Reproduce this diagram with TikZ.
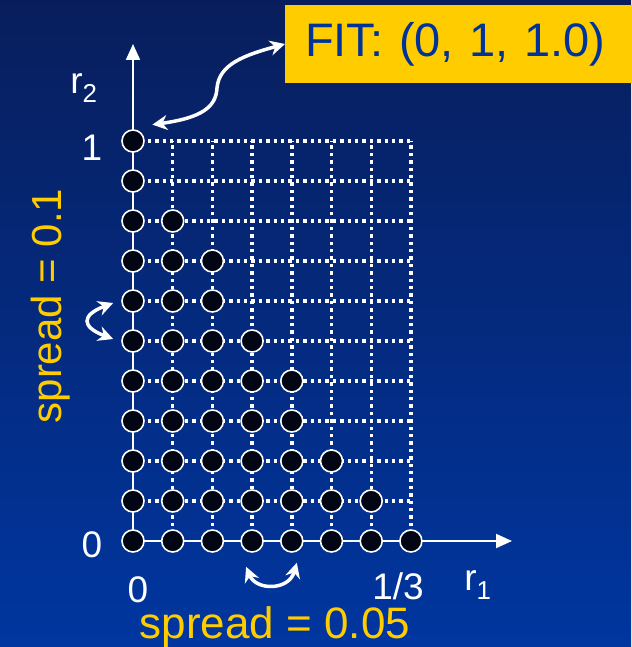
\documentclass[tikz,border=0pt]{standalone}
\usepackage{fontspec}
\setmainfont{Liberation Sans}
\usepackage{xcolor}
\usetikzlibrary{arrows.meta}
\definecolor{bgtop}{RGB}{8,30,92}
\definecolor{bgbot}{RGB}{0,54,160}
\definecolor{fityellow}{RGB}{255,204,0}
\definecolor{fitblue}{RGB}{0,51,153}
\definecolor{dotblack}{RGB}{2,6,20}

\begin{document}
\begin{tikzpicture}[
    x=1pt, y=-1pt,
    dot/.style={circle, draw=white, fill=dotblack, line width=1.6pt, minimum size=22pt, inner sep=0pt},
    gridline/.style={white, line width=3.4pt, dash pattern=on 3.4pt off 4pt},
    axis/.style={white, line width=2pt, -{Triangle[length=16pt,width=14pt]}},
    swap/.style={white, line width=3.5pt, {Stealth[length=15pt,width=15pt]}-{Stealth[length=15pt,width=15pt]}},
    lbl/.style={text=white, inner sep=0pt, font=\fontsize{37}{40}\selectfont},
    spread/.style={text=fityellow, inner sep=0pt, font=\fontsize{44}{48}\selectfont},
    fitbox/.style={fill=fityellow, text=fitblue, font=\fontsize{47}{50}\selectfont, minimum height=78pt, text width=330pt, inner xsep=20pt}
]
\useasboundingbox (0,0) rectangle (631,647);
\shade[top color=bgtop, bottom color=bgbot] (0,0) rectangle (631,647);

% grid points
\foreach \i in {0,...,7}
  \foreach \j in {0,...,10}
    \coordinate (g-\i-\j) at ({133+39.7*\i},{541-40*\j});
\coordinate (xend) at (512,541);
\coordinate (yend) at (133,44);

% dotted grid
\foreach \j in {1,...,10}
  \draw[gridline] (g-0-\j) -- (g-7-\j);
\foreach \i in {1,...,7}
  \draw[gridline] (g-\i-0) -- (g-\i-10);

% axes
\draw[axis] (g-0-0) -- (xend);
\draw[axis] (g-0-0) -- (yend);

% points
\foreach \i/\top in {0/10,1/8,2/7,3/5,4/4,5/2,6/1,7/0}
  \foreach \j in {0,...,\top}
    \node[dot] (d-\i-\j) at (g-\i-\j) {};

% axis labels
\node[lbl] (lbl-r2) at (84,88) {r\textsubscript{2}};
\node[lbl] (lbl-one) at (92,148) {1};
\node[lbl] (lbl-zeroy) at (92,545) {0};
\node[lbl] (lbl-zerox) at (138,590) {0};
\node[lbl] (lbl-third) at (398,586) {1/3};
\node[lbl] (lbl-r1) at (478,585) {r\textsubscript{1}};

\node[spread] (spread-x) at (275,627) {spread = 0.05};
\node[spread, rotate=90, font=\fontsize{42}{46}\selectfont] (spread-y) at (51,306) {spread = 0.1};

\node[fitbox, anchor=west] (fit) at (285,44) {FIT: (0, 1, 1.0)};

% curved arrows
\draw[swap] ([xshift=11pt,yshift=8pt]d-0-10.north east) .. controls (200,118) and (216,108) .. (217,88)
    .. controls (219,64) and (245,55) .. (fit.west);
\draw[swap] ([xshift=-8pt,yshift=-2pt]d-0-6.west) .. controls ([xshift=-40pt,yshift=-14pt]d-0-6.west) and ([xshift=-40pt,yshift=14pt]d-0-5.west) .. ([xshift=-8pt,yshift=2pt]d-0-5.west);
\draw[swap] ([xshift=-6pt,yshift=-14pt]d-3-0.south) .. controls ([xshift=4pt,yshift=-38pt]d-3-0.south) and ([xshift=-3pt,yshift=-38pt]d-4-0.south) .. ([xshift=5pt,yshift=-10pt]d-4-0.south);
\end{tikzpicture}
\end{document}
